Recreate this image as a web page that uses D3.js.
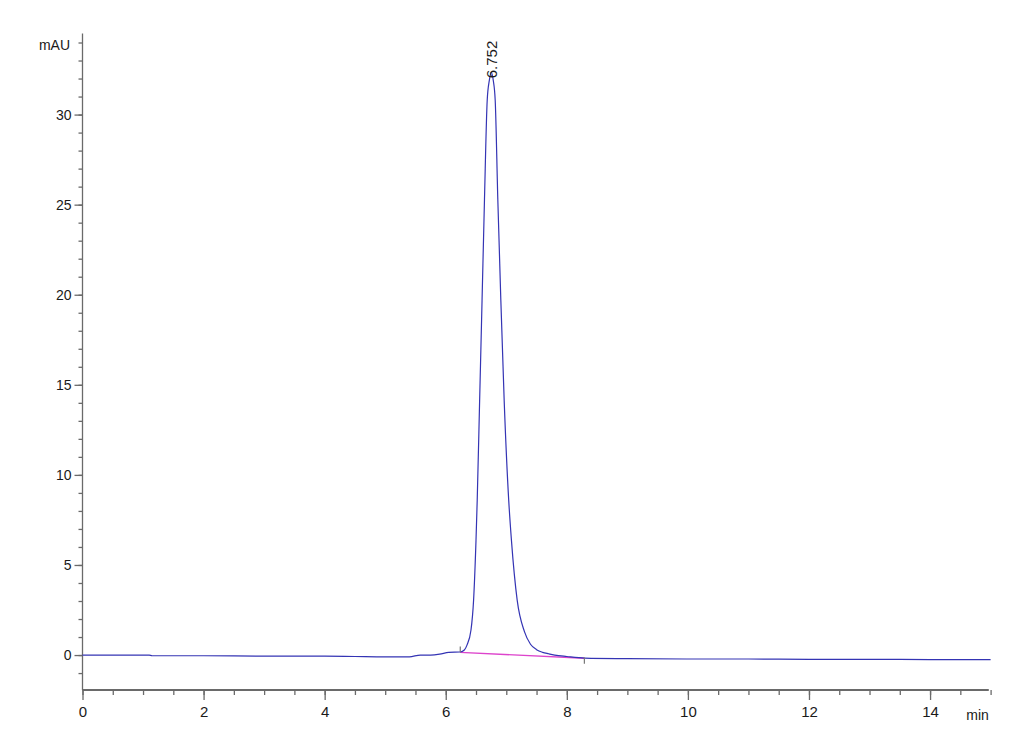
<!DOCTYPE html>
<html>
<head>
<meta charset="utf-8">
<script src="https://cdn.jsdelivr.net/npm/d3@7"></script>
<style>
  html, body { margin: 0; padding: 0; background: #fff; }
  svg { display: block; font-family: "Liberation Sans", Arial, sans-serif; }
</style>
</head>
<body>
<svg id="chart" width="1030" height="755"></svg>
<script>
// ---- data ----
const traceTime = [0, 1.1, 1.15, 2, 3, 4, 4.5, 5.0, 5.4, 5.58, 5.75, 5.9, 6.05, 6.24,
  6.307, 6.351, 6.417, 6.46, 6.5, 6.52, 6.56, 6.6, 6.64, 6.685, 6.72, 6.752,
  6.785, 6.817, 6.86, 6.91, 6.965, 7.04, 7.085, 7.18, 7.3, 7.4, 7.5, 7.6, 7.7,
  7.8, 8.0, 8.3, 9, 10, 11, 12, 13, 14, 15];
const traceMAU = [0, 0, -0.04, -0.04, -0.06, -0.06, -0.08, -0.1, -0.1, 0.0, 0.0, 0.05, 0.15, 0.17,
  0.28, 0.55, 1.39, 3.05, 6.38, 8.6, 14.15, 19.7, 25.3, 30.8, 31.9, 32.35,
  31.9, 30.8, 25.3, 19.7, 14.15, 8.6, 6.38, 3.05, 1.3, 0.6, 0.3, 0.15, 0.07,
  0.0, -0.08, -0.17, -0.2, -0.22, -0.22, -0.24, -0.24, -0.25, -0.25];
const baselineTime = [6.24, 8.29];
const baselineMAU = [0.15, -0.18];
const peakRT = 6.752;
const peakLabel = "6.752";
const xMajorTicks = [0, 2, 4, 6, 8, 10, 12, 14];
const xMinorTicks = d3.range(0, 15.01, 0.5);
const yMajorTicks = [0, 5, 10, 15, 20, 25, 30];
const yMinorTicks = d3.range(-1, 34.5, 1);
const xTitle = "min";
const yTitle = "mAU";

// ---- layout ----
const svg = d3.select("#chart");
const x = d3.scaleLinear().domain([0, 15]).range([82.5, 990.6]);
const y = d3.scaleLinear().domain([-1.94, 34.5]).range([690, 33.5]);
const axisColor = "#6a6a6a";
const textColor = "#1a1a1a";

// Y axis (minor + major)
const yMinor = svg.append("g").attr("transform", `translate(${x(0)},0)`)
  .call(d3.axisLeft(y).tickValues(yMinorTicks).tickSize(4).tickFormat(""));
const yMajor = svg.append("g").attr("transform", `translate(${x(0)},0)`)
  .call(d3.axisLeft(y).tickValues(yMajorTicks).tickSize(8).tickPadding(3).tickFormat(d3.format("d")));
[yMinor, yMajor].forEach(g => {
  g.selectAll("line").attr("stroke", axisColor).attr("stroke-width", 1.3);
  g.select(".domain").attr("stroke", axisColor).attr("stroke-width", 1.3);
  g.selectAll("text").attr("fill", textColor).style("font-size", "14px");
});
yMinor.select(".domain").attr("d", `M0,${y(-1.94)}V${y(34.5)}`);
yMajor.select(".domain").remove();

// X axis (minor + major)
const xMinor = svg.append("g").attr("transform", `translate(0,${y(-1.94)})`)
  .call(d3.axisBottom(x).tickValues(xMinorTicks).tickSize(5).tickFormat(""));
const xMajor = svg.append("g").attr("transform", `translate(0,${y(-1.94)})`)
  .call(d3.axisBottom(x).tickValues(xMajorTicks).tickSize(10).tickPadding(6).tickFormat(d3.format("d")));
[xMinor, xMajor].forEach(g => {
  g.selectAll("line").attr("stroke", axisColor).attr("stroke-width", 1.3);
  g.selectAll("text").attr("fill", textColor).style("font-size", "15px");
});
xMinor.select(".domain").attr("stroke", axisColor).attr("stroke-width", 2)
  .attr("d", `M${x(0)},0H${x(14.97)}`);
xMajor.select(".domain").remove();

// axis titles
svg.append("text").attr("x", 70).attr("y", 50).attr("text-anchor", "end")
  .attr("fill", textColor).style("font-size", "14px").text(yTitle);
svg.append("text").attr("x", x(14.97)).attr("y", 720).attr("text-anchor", "end")
  .attr("fill", textColor).style("font-size", "14px").text(xTitle);

// integration baseline
const blData = baselineTime.map((t, i) => [t, baselineMAU[i]]);
svg.append("path").datum(blData)
  .attr("fill", "none").attr("stroke", "#dd44cc").attr("stroke-width", 1.4)
  .attr("d", d3.line().x(d => x(d[0])).y(d => y(d[1])));

// trace
const trData = traceTime.map((t, i) => [t, traceMAU[i]]);
svg.append("path").datum(trData)
  .attr("fill", "none").attr("stroke", "#3434b4").attr("stroke-width", 1.2)
  .attr("d", d3.line().curve(d3.curveMonotoneX).x(d => x(d[0])).y(d => y(d[1])));

// peak start / end drop ticks
svg.append("line").attr("x1", x(baselineTime[0])).attr("x2", x(baselineTime[0]))
  .attr("y1", y(baselineMAU[0])).attr("y2", y(baselineMAU[0] + 0.32))
  .attr("stroke", "#777").attr("stroke-width", 1.2);
svg.append("line").attr("x1", x(baselineTime[1])).attr("x2", x(baselineTime[1]))
  .attr("y1", y(baselineMAU[1] + 0.05)).attr("y2", y(baselineMAU[1] - 0.3))
  .attr("stroke", "#777").attr("stroke-width", 1.2);

// peak label
svg.append("text")
  .attr("transform", `translate(${x(peakRT) + 6},${y(32.35) + 6}) rotate(-90)`)
  .attr("fill", textColor).style("font-size", "15px").text(peakLabel);
</script>
</body>
</html>
